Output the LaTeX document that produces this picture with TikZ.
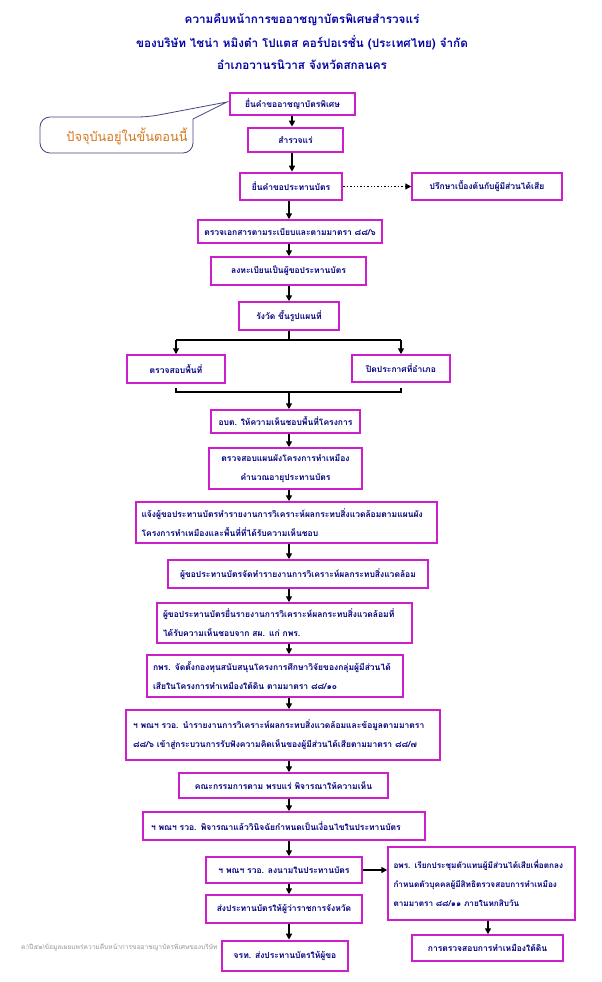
\documentclass[tikz,border=0pt]{standalone}
\usepackage{fontspec}
\newfontfamily\thai[Script=Thai]{Loma}
\usetikzlibrary{arrows.meta,calc}
\definecolor{mag}{RGB}{204,30,204}
\definecolor{txtblue}{RGB}{0,0,128}
\definecolor{ttlblue}{RGB}{0,0,170}
\definecolor{orng}{RGB}{214,120,30}
\definecolor{callbd}{RGB}{70,70,130}
\definecolor{notegray}{RGB}{150,150,150}
\newcommand\mkbox[7][]{%
 \pgfmathsetmacro\cx{(#3+#5)/2}\pgfmathsetmacro\cy{(#4+#6)/2}%
 \pgfmathsetmacro\ww{#5-#3}\pgfmathsetmacro\hh{#6-#4}%
 \node[box,minimum width=\ww pt,minimum height=\hh pt,#1] (#2) at (\cx,\cy) {#7};}
\begin{document}
\begin{tikzpicture}[x=1pt,y=-1pt,
 box/.style={draw=mag,line width=1.5pt,inner sep=0pt,font=\thai\fontsize{8.5}{19}\selectfont\bfseries,text=txtblue,align=center},
 thk/.style={line width=2.6pt},
 lft/.style={align=left,text width=#1pt},
 sml/.style={font=\thai\fontsize{8.2}{19}\selectfont\bfseries},
 ttl/.style={font=\thai\fontsize{11.7}{13}\selectfont\bfseries,text=ttlblue},
 arr/.style={-{Triangle[width=6pt,length=6pt]},line width=1.4pt},
 ln/.style={line width=1.4pt}]
\useasboundingbox (0,0) rectangle (602,982);
% title
\node[ttl] (t1) at (302,20) {ความคืบหน้าการขออาชญาบัตรพิเศษสำรวจแร่};
\node[ttl] (t2) at (302,43) {ของบริษัท ไชน่า หมิงต๋า โปแตส คอร์ปอเรชั่น (ประเทศไทย) จำกัด};
\node[ttl] (t3) at (302,65) {อำเภอวานรนิวาส จังหวัดสกลนคร};
% callout
\draw[callbd,line width=0.8pt,fill=white]
 (40,135) [rounded corners=10pt] -- (40,117) -- (148,117) [sharp corners] -- (227,102) -- (193,119) [rounded corners=10pt] -- (193,153) -- (40,153) [sharp corners] -- cycle;
\node[text=orng,font=\thai\fontsize{12.8}{14}\selectfont] (call) at (127,136) {ปัจจุบันอยู่ในขั้นตอนนี้};
% boxes
\mkbox[thk]{b1}{230}{93}{355}{115}{ยื่นคำขออาชญาบัตรพิเศษ}
\mkbox[thk]{b2}{248}{128}{343}{152}{สำรวจแร่}
\mkbox[thk]{b3}{240}{173}{342}{200}{ยื่นคำขอประทานบัตร}
\mkbox{bR}{412}{173}{562}{200}{ปรึกษาเบื้องต้นกับผู้มีส่วนได้เสีย}
\mkbox{b4}{198}{220}{382}{243}{ตรวจเอกสารตามระเบียบและตามมาตรา ๘๘/๖}
\mkbox{b5}{211}{257}{366}{285}{ลงทะเบียนเป็นผู้ขอประทานบัตร}
\mkbox{b6}{239}{302}{339}{330}{รังวัด ขึ้นรูปแผนที่}
\mkbox{b7}{127}{355}{225}{383}{ตรวจสอบพื้นที่}
\mkbox{b8}{352}{355}{450}{382}{ปิดประกาศที่อำเภอ}
\mkbox{b9}{211}{410}{360}{433}{อบต. ให้ความเห็นชอบพื้นที่โครงการ}
\mkbox{b10}{209}{448}{362}{489}{ตรวจสอบแผนผังโครงการทำเหมือง\\คำนวณอายุประทานบัตร}
\mkbox[lft=290]{b11}{136}{502}{437}{543}{แจ้งผู้ขอประทานบัตรทำรายงานการวิเคราะห์ผลกระทบสิ่งแวดล้อมตามแผนผัง\\โครงการทำเหมืองและพื้นที่ที่ได้รับความเห็นชอบ}
\mkbox{b12}{168}{560}{428}{588}{ผู้ขอประทานบัตรจัดทำรายงานการวิเคราะห์ผลกระทบสิ่งแวดล้อม}
\mkbox[lft=243]{b13}{157}{603}{412}{643}{ผู้ขอประทานบัตรยื่นรายงานการวิเคราะห์ผลกระทบสิ่งแวดล้อมที่\\ได้รับความเห็นชอบจาก สผ. แก่ กพร.}
\mkbox[lft=244]{b14}{147}{655}{403}{697}{กพร. จัดตั้งกองทุนสนับสนุนโครงการศึกษาวิจัยของกลุ่มผู้มีส่วนได้\\เสียในโครงการทำเหมืองใต้ดิน ตามมาตรา ๘๘/๑๐}
\mkbox[lft=300]{b15}{126}{710}{440}{760}{ฯ พณฯ รวอ. นำรายงานการวิเคราะห์ผลกระทบสิ่งแวดล้อมและข้อมูลตามมาตรา\\๘๘/๖ เข้าสู่กระบวนการรับฟังความคิดเห็นของผู้มีส่วนได้เสียตามมาตรา ๘๘/๗}
\mkbox{b16}{179}{773}{388}{798}{คณะกรรมการตาม พรบแร่ พิจารณาให้ความเห็น}
\mkbox[lft=266]{b17}{143}{812}{425}{840}{ฯ พณฯ รวอ. พิจารณาแล้ววินิจฉัยกำหนดเป็นเงื่อนไขในประทานบัตร}
\mkbox{b18}{206}{857}{362}{883}{ฯ พณฯ รวอ. ลงนามในประทานบัตร}
\mkbox[lft=176,sml]{b19}{388}{847}{575}{920}{อพร. เรียกประชุมตัวแทนผู้มีส่วนได้เสียเพื่อตกลง\\กำหนดตัวบุคคลผู้มีสิทธิตรวจสอบการทำเหมือง\\ตามมาตรา ๘๘/๑๑ ภายในหกสิบวัน}
\mkbox{b20}{206}{895}{362}{923}{ส่งประทานบัตรให้ผู้ว่าราชการจังหวัด}
\mkbox{b21}{412}{935}{563}{961}{การตรวจสอบการทำเหมืองใต้ดิน}
\mkbox[thk]{b22}{222}{941}{348}{971}{จรท. ส่งประทานบัตรให้ผู้ขอ}
\node[anchor=east,text=notegray,font=\thai\fontsize{6.6}{7}\selectfont] (note) at (221,948) {ค:\textbackslash ปี๕๒\textbackslash ข้อมูลเผยแพร่ความคืบหน้าการขออาชญาบัตรพิเศษของบริษัท};
% connectors
\coordinate (ax) at (292,0);
\coordinate (mx) at (289,0);
\draw[arr] (b1.south -| ax) -- (b2.north -| ax);
\draw[arr] (b2.south -| ax) -- (b3.north -| ax);
\draw[arr,dotted] (b3.east) -- (bR.west);
\draw[arr] (b3.south -| mx) -- (b4.north -| mx);
\draw[arr] (b4.south -| mx) -- (b5.north -| mx);
\draw[arr] (b5.south -| mx) -- (b6.north -| mx);
\coordinate (sp) at (289,340);
\draw[ln] (b6.south -| mx) -- (sp);
\draw[ln] (b7.north |- sp) -- (b8.north |- sp);
\draw[arr] (b7.north |- sp) -- (b7.north);
\draw[arr] (b8.north |- sp) -- (b8.north);
\coordinate (jn) at (289,392);
\draw[ln] ($(b7.south)+(0,4)$) -- (b7.south |- jn) -- (b8.south |- jn) -- ($(b8.south)+(0,5)$);
\draw[arr] (jn) -- (b9.north -| mx);
\draw[arr] (b9.south -| mx) -- (b10.north -| mx);
\draw[arr] (b10.south -| mx) -- (b11.north -| mx);
\draw[arr] (b11.south -| mx) -- (b12.north -| mx);
\draw[arr] (b12.south -| mx) -- (b13.north -| mx);
\draw[arr] (b13.south -| mx) -- (b14.north -| mx);
\draw[arr] (b14.south -| mx) -- (b15.north -| mx);
\draw[arr] (b15.south -| mx) -- (b16.north -| mx);
\draw[arr] (b16.south -| mx) -- (b17.north -| mx);
\draw[arr] (b17.south -| mx) -- (b18.north -| mx);
\draw[arr] (b18.east) -- (b18.east -| b19.west);
\draw[arr] (b18.south -| mx) -- (b20.north -| mx);
\draw[arr] (b20.south -| mx) -- (b22.north -| mx);
\coordinate (rx) at (488,0);
\draw[arr] (b19.south -| rx) -- (b21.north -| rx);
\end{tikzpicture}
\end{document}
